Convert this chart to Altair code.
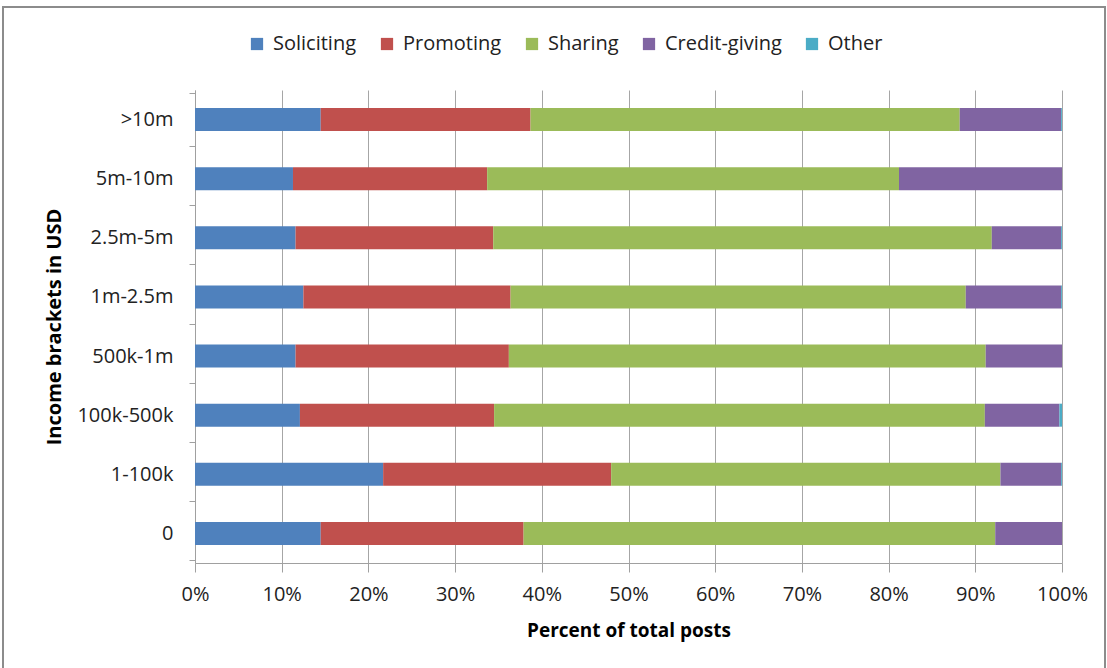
import altair as alt
import pandas as pd

brackets = [">10m", "5m-10m", "2.5m-5m", "1m-2.5m", "500k-1m", "100k-500k", "1-100k", "0"]
categories = ["Soliciting", "Promoting", "Sharing", "Credit-giving", "Other"]
colors = ["#4F81BD", "#C0504D", "#9BBB59", "#8064A2", "#4BACC6"]

soliciting = [14.5, 11.3, 11.6, 12.5, 11.6, 12.1, 21.7, 14.5]
promoting = [24.2, 22.4, 22.8, 23.9, 24.6, 22.4, 26.3, 23.4]
sharing = [49.5, 47.5, 57.5, 52.5, 55.0, 56.6, 44.9, 54.4]
credit = [11.7, 18.8, 8.0, 11.0, 8.8, 8.6, 7.0, 7.7]
other = [0.1, 0.0, 0.1, 0.1, 0.0, 0.3, 0.1, 0.0]

series = [soliciting, promoting, sharing, credit, other]
rows = []
for ci, (cat, vals) in enumerate(zip(categories, series)):
    for b, v in zip(brackets, vals):
        rows.append({"bracket": b, "type": cat, "value": v, "order": ci})
df = pd.DataFrame(rows)

FONT = "Open Sans"

frame = alt.Chart(pd.DataFrame({"a": [0]})).mark_rect(
    fill=None, stroke="#8c8c8c", strokeWidth=2
).encode(
    x=alt.value(-192), x2=alt.value(910), y=alt.value(-83), y2=alt.value(580)
)

bars = alt.Chart(df).mark_bar(size=23).encode(
    y=alt.Y("bracket:N", sort=brackets,
            axis=alt.Axis(title="Income brackets in USD", tickBand="extent",
                          domainColor="#a0a0a0", tickColor="#a0a0a0", tickSize=6,
                          labelFontSize=20, labelPadding=16, labelColor="#222",
                          titleFontSize=20, titleFontWeight="bold", titleColor="#000",
                          titlePadding=12, grid=False)),
    x=alt.X("value:Q", stack="normalize",
            scale=alt.Scale(domain=[0, 1], nice=False),
            axis=alt.Axis(title="Percent of total posts", format=".0%", values=[i / 10 for i in range(11)],
                          grid=True, gridColor="#a6a6a6", domainColor="#a0a0a0", tickColor="#a0a0a0",
                          tickSize=9, labelFontSize=20, labelPadding=12, labelColor="#222",
                          labelFlush=False, labelOverlap=False,
                          titleFontSize=19, titleFontWeight="bold", titleColor="#000",
                          titlePadding=17)),
    color=alt.Color("type:N", sort=categories,
                    scale=alt.Scale(domain=categories, range=colors),
                    legend=alt.Legend(title=None, orient="none", direction="horizontal",
                                      legendX=52, legendY=-56, symbolType="square",
                                      symbolSize=150, symbolStrokeWidth=0, labelFontSize=20,
                                      labelColor="#222", columnPadding=20, labelOffset=6)),
    order=alt.Order("order:Q"),
)

chart = alt.layer(frame, bars).properties(
    width=867, height=473,
    autosize=alt.AutoSizeParams(type="none"),
    padding={"left": 195, "top": 90, "right": 45, "bottom": 105},
).configure(font=FONT).configure_view(stroke=None)

chart.save("out.html", embed_options={"renderer": "svg", "actions": False})
